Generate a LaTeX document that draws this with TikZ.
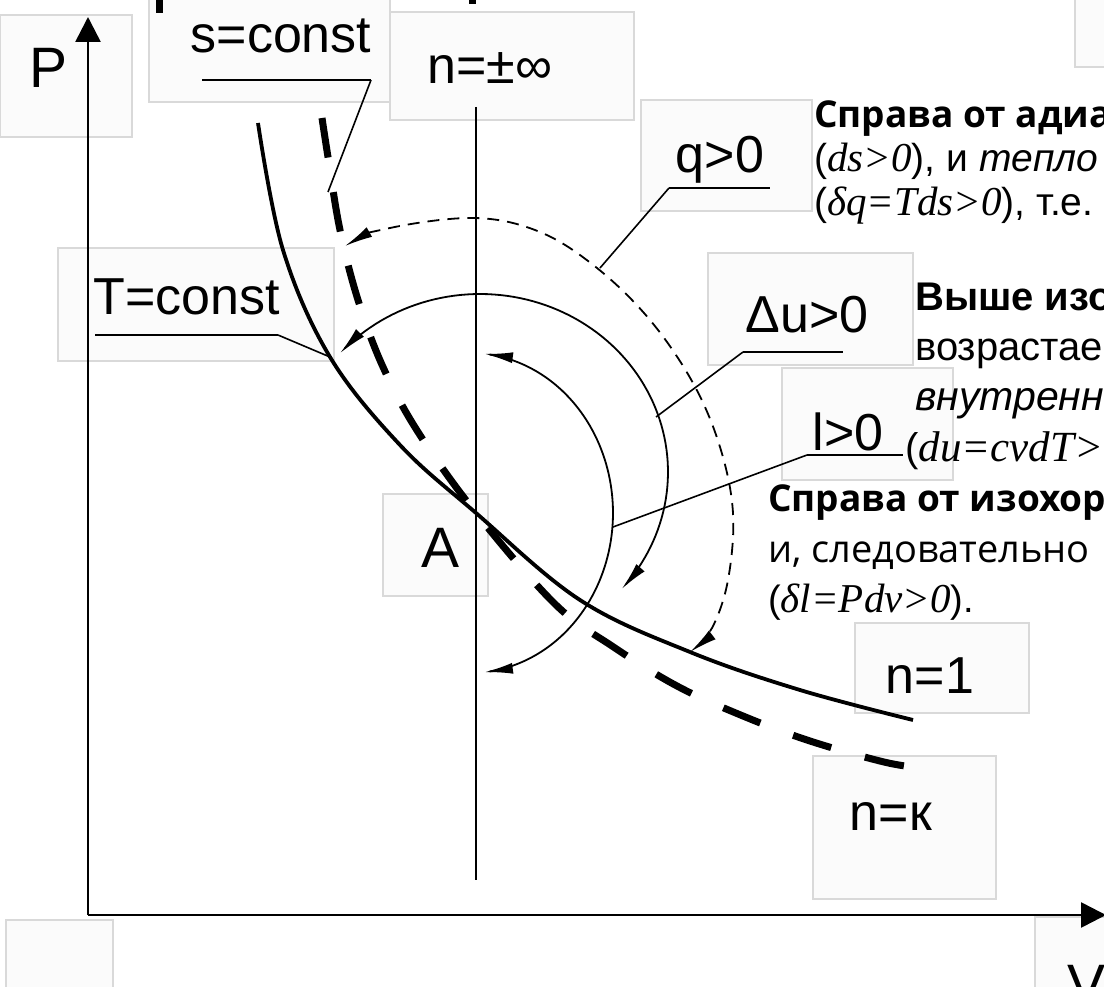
\documentclass[tikz,border=0pt]{standalone}
\usepackage{fontspec}
\setmainfont{Liberation Sans}
\newfontfamily\osans{Open Sans}
\newfontfamily\tms{Liberation Serif}
\usetikzlibrary{arrows.meta}
\newcommand\fsz[1]{\fontsize{#1}{#1}\selectfont}
\begin{document}
\begin{tikzpicture}[x=1pt,y=-1pt,
  lbox/.style={draw=black!15, fill=black!1.5, line width=1.3pt},
  lbl/.style={font=\fsz{52}, inner sep=0pt, anchor=base},
  axisline/.style={line width=2.6pt, -{Triangle[length=25pt,width=25pt]}},
  leader/.style={line width=1.6pt},
  uline/.style={line width=2.6pt},
  arcline/.style={line width=1.8pt, {Latex[length=28pt,width=11pt]}-{Latex[length=28pt,width=11pt]}},
  isotherm/.style={line width=3.8pt},
  adiabat/.style={line width=7pt, dash pattern=on 40pt off 35pt},
  qarc/.style={line width=1.8pt, dash pattern=on 12pt off 8pt, {Latex[length=28pt,width=11pt]}-{Latex[length=28pt,width=11pt]}},
  txt/.style={inner sep=0pt, anchor=base west}
]
\useasboundingbox (0,0) rectangle (1104,987);
\clip (0,0) rectangle (1104,987);
\fill[white] (0,0) rectangle (1104,987);

% label boxes
\draw[lbox] (0,15) rectangle (132,137);
\draw[lbox] (149,-5) rectangle (390,102);
\draw[lbox] (390,12) rectangle (634,120);
\draw[lbox] (1075,-5) rectangle (1110,67);
\draw[lbox] (641,100) rectangle (812,211);
\draw[lbox] (58,248) rectangle (334,361);
\draw[lbox] (708,253) rectangle (913,365);
\draw[lbox] (782,368) rectangle (953,480);
\draw[lbox] (383,494) rectangle (488,596);
\draw[lbox] (855,623) rectangle (1029,713);
\draw[lbox] (813,756) rectangle (996,899);
\draw[lbox] (6,920) rectangle (113,995);
\draw[lbox] (1035,917) rectangle (1110,995);

% cut-off glyph bits at the top edge
\fill (156,-2) rectangle (163,13);
\fill (469,-2) rectangle (476,4);

% axes
\coordinate (O) at (88,915);
\coordinate (Ptip) at (88,17);
\coordinate (Vtip) at (1106,915);
\draw[axisline] (O) -- (Ptip);
\draw[axisline] (O) -- (Vtip);

% isochore
\coordinate (isoTop) at (476,107);
\coordinate (isoBot) at (476,880);
\draw[line width=2pt] (isoTop) -- (isoBot);

% isotherm n=1
\draw[isotherm] plot[smooth, tension=0.6] coordinates {(258,123) (283,250) (330,357) (400,445) (476,513) (580,600) (690,652) (800,690) (913,720)};
% adiabat n=k
\draw[adiabat] plot[smooth, tension=0.6] coordinates {(322,118) (328,157) (340,230) (358,300) (383,367) (418,432) (476,513) (555,604) (612,646) (677,686) (743,716) (810,741) (884,762) (922,768)};

% q arc (dashed)
\draw[qarc] plot[smooth, tension=0.6] coordinates {(345,246) (390,228) (475,218) (540,232) (597,268) (650,320) (693,383) (720,447) (733,513) (728,580) (712,628) (690,652)};
% delta u arc
\draw[arcline] plot[domain=-138:41, samples=90, variable=\t] ({480+188*cos(\t)}, {472+178*sin(\t)});
% l arc
\draw[arcline] plot[domain=-84:84, samples=90, variable=\t] ({470+143*cos(\t)}, {513+160*sin(\t)});

% labels
\node[lbl, font=\fsz{57}] (lP) at (49,88) {P};
\node[lbl] (ls) at (281,53) {s=const};
\node[lbl] (ln) at (490,84) {n=±∞};
\node[lbl] (lq) at (720,173) {q>0};
\node[lbl] (lT) at (187,315) {T=const};
\node[lbl] (lu) at (807,333) {Δu>0};
\node[lbl] (ll) at (848,450) {l>0};
\node[lbl, font=\fsz{57}] (lA) at (441,567) {A};
\node[lbl] (l1) at (930,693) {n=1};
\node[lbl] (lk) at (891,830) {n=к};
\node[lbl, font=\fsz{57}] (lV) at (1087,1004) {V};

% underlines and leaders
\coordinate (sU1) at (202,80);  \coordinate (sU2) at (371,80);  \coordinate (sE) at (328,192);
\coordinate (TU1) at (95,335);  \coordinate (TU2) at (278,335); \coordinate (TE) at (330,357);
\coordinate (qU1) at (669,188); \coordinate (qU2) at (770,188); \coordinate (qE) at (600,268);
\coordinate (uU1) at (743,352); \coordinate (uU2) at (843,352); \coordinate (uE) at (656,417);
\coordinate (lU1) at (807,455); \coordinate (lU2) at (903,455); \coordinate (lE) at (613,527);
\draw[uline] (sU1) -- (sU2); \draw[leader] (sU2) -- (sE);
\draw[uline] (TU1) -- (TU2); \draw[leader] (TU2) -- (TE);
\draw[uline] (qU1) -- (qU2); \draw[leader] (qU1) -- (qE);
\draw[uline] (uU1) -- (uU2); \draw[leader] (uU1) -- (uE);
\draw[uline] (lU1) -- (lU2); \draw[leader] (lU1) -- (lE);

% right-hand text
\node[txt] (t1) at (814,128) {\osans\bfseries\fsz{37}Справа от адиа};
\node[txt] (t2) at (814,172) {\fsz{39}(\tms\itshape\fsz{41}ds>0\normalfont\fsz{39}), и \itshape тепло};
\node[txt] (t3) at (814,216) {\fsz{39}(\tms\itshape\fsz{41}δq=Tds>0\normalfont\fsz{39}), т.е.};

\node[txt] (t4) at (915,311) {\bfseries\fsz{40}Выше изо};
\node[txt] (t5) at (915,360) {\fsz{40}возрастае};
\node[txt] (t6) at (915,410) {\itshape\fsz{41}внутренн};
\node[txt] (t7) at (905,461) {\fsz{40}(\tms\itshape\fsz{43}du=cvdT>};

\node[txt] (t8) at (768,511) {\osans\bfseries\fsz{37}Справа от изохор};
\node[txt] (t9) at (768,562) {\osans\fsz{38}и, следовательно};
\node[txt] (t10) at (768,612) {\fsz{38}(\tms\itshape\fsz{41}δl=Pdv>0\normalfont\fsz{38}).};
\end{tikzpicture}
\end{document}
